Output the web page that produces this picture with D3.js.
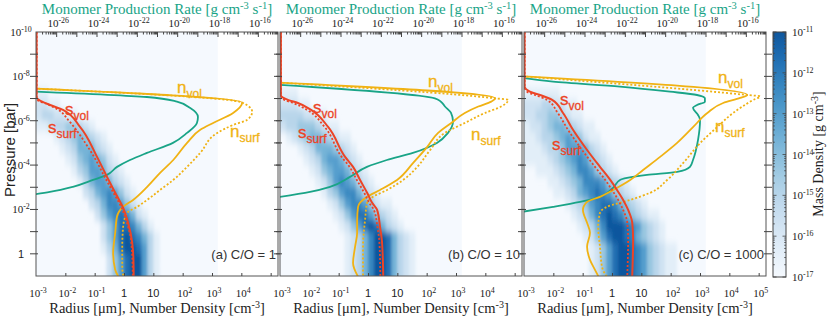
<!DOCTYPE html>
<html>
<head>
<meta charset="utf-8">
<script src="https://cdn.jsdelivr.net/npm/d3@7"></script>
<style>
  body { margin: 0; background: #fff; }
  svg { display: block; }
</style>
</head>
<body>
<div id="chart"></div>
<script>
// Haze profiles for three C/O ratios.
// Every value below is a log10: pressure [bar], radius [um],
// number density [cm^-3], monomer production rate [g cm^-3 s^-1].
// Pairs are [logP, value].

const panelLabels = ["(a) C/O = 1", "(b) C/O = 10", "(c) C/O = 1000"];

const sVol = [
  [[-10,-2.98],[-7.05,-2.98],[-6.9,-2.85],[-6.71,-2.52],[-6.49,-2.08],[-5.72,-1.50],[-4.37,-0.92],[-3.47,-0.58],[-2.75,-0.30],[-2.07,-0.03],[-1.40,0.14],[-0.50,0.28],[0.2,0.32],[1,0.33]],
  [[-10,-2.97],[-7.15,-2.97],[-6.94,-2.73],[-6.80,-2.39],[-6.49,-1.94],[-5.72,-1.36],[-4.37,-0.78],[-3.92,-0.51],[-3.33,-0.27],[-2.75,-0.03],[-2.30,0.14],[-1.98,0.31],[-1.22,0.41],[-0.50,0.48],[1,0.52]],
  [[-10,-2.98],[-7.55,-2.98],[-7.31,-2.80],[-7.16,-2.45],[-6.94,-2.04],[-6.35,-1.67],[-5.59,-1.33],[-4.68,-0.85],[-3.92,-0.41],[-3.33,-0.06],[-2.88,0.17],[-2.43,0.38],[-1.98,0.55],[-1.40,0.69],[-0.63,0.72],[1,0.69]]
];

const sSurf = [
  [[-10,-2.98],[-7.05,-2.98],[-6.9,-2.92],[-6.75,-2.62],[-6.5,-2.25],[-6.0,-1.88],[-5.5,-1.58],[-5.0,-1.32],[-4.37,-1.02],[-3.47,-0.66],[-2.75,-0.36],[-2.07,-0.08],[-1.4,0.1],[-0.5,0.25],[1,0.3]],
  [[-10,-2.97],[-7.15,-2.97],[-6.94,-2.85],[-6.8,-2.55],[-6.49,-2.08],[-5.72,-1.48],[-4.37,-0.9],[-3.92,-0.63],[-3.33,-0.38],[-2.75,-0.13],[-2.3,0.04],[-1.98,0.2],[-1.22,0.32],[-0.5,0.39],[1,0.42]],
  [[-10,-2.98],[-7.55,-2.98],[-7.31,-2.9],[-7.16,-2.62],[-6.94,-2.22],[-6.35,-1.85],[-5.59,-1.5],[-4.68,-1.02],[-3.92,-0.58],[-3.33,-0.23],[-2.88,0.0],[-2.43,0.21],[-1.98,0.38],[-1.4,0.52],[-0.63,0.55],[1,0.52]]
];

const nVol = [
  [[-7.45,-3.05],[-6.82,4.03],[-6.35,3.72],[-5.90,3.04],[-5.59,2.60],[-5.0,2.15],[-4.23,1.68],[-3.65,1.23],[-3.02,0.79],[-2.43,0.31],[-2.12,-0.03],[-1.67,-0.24],[-0.95,-0.30],[-0.05,-0.37],[0.72,-0.30],[1.05,-0.18]],
  [[-7.72,-3.05],[-7.01,4.34],[-6.86,4.20],[-6.64,3.76],[-6.35,3.30],[-5.90,2.84],[-5.45,2.39],[-4.82,2.02],[-4.10,1.54],[-3.33,0.99],[-2.88,0.41],[-2.57,-0.03],[-2.12,-0.34],[-1.53,-0.37],[-0.95,-0.37],[-0.32,-0.44],[0.41,-0.51],[1.05,-0.33]],
  [[-8.0,-3.05],[-7.16,4.61],[-7.03,4.37],[-6.80,3.79],[-6.35,3.25],[-5.72,2.77],[-5.0,2.22],[-4.37,1.64],[-3.78,1.06],[-3.33,0.62],[-2.88,0.04],[-2.57,-0.41],[-2.34,-0.85],[-1.98,-0.99],[-1.40,-0.85],[-0.95,-0.75],[-0.32,-0.85],[0.27,-0.75],[0.72,-0.58],[1.05,-0.45]]
];

const nSurf = [
  [[-7.45,-3.05],[-6.82,4.03],[-6.40,4.37],[-6.04,4.20],[-5.81,3.72],[-5.45,3.18],[-4.55,2.60],[-3.92,2.15],[-3.33,1.68],[-2.88,1.23],[-2.43,0.79],[-2.12,0.45],[-1.85,0.11],[-1.22,-0.03],[-0.32,-0.06],[0.59,-0.06],[1.05,-0.02]],
  [[-7.72,-3.05],[-7.01,4.34],[-6.94,4.78],[-6.64,4.54],[-6.35,3.99],[-5.90,3.30],[-5.45,2.62],[-4.68,2.12],[-3.92,1.68],[-3.33,1.20],[-2.88,0.65],[-2.57,0.17],[-2.30,-0.03],[-1.53,-0.10],[-0.32,-0.17],[1.05,-0.17]],
  [[-8.0,-3.05],[-7.16,4.61],[-7.10,5.05],[-6.94,4.82],[-6.35,4.13],[-5.72,3.59],[-5.0,3.01],[-4.10,2.43],[-3.33,1.88],[-2.75,1.30],[-2.43,0.62],[-2.12,-0.17],[-1.85,-0.41],[-1.22,-0.47],[-0.32,-0.41],[0.59,-0.34],[1.05,-0.17]]
];

const monomerRate = [
  [[-7.32,-27.1],[-7.07,-21.50],[-6.86,-20.01],[-6.58,-19.37],[-6.17,-18.97],[-5.90,-19.02],[-5.45,-19.51],[-5.0,-20.21],[-4.55,-21.50],[-4.23,-22.34],[-3.92,-22.98],[-3.56,-23.48],[-3.33,-24.17],[-3.02,-25.17],[-2.79,-26.31],[-2.68,-27.1]],
  [[-7.62,-27.1],[-7.01,-19.32],[-6.86,-19.02],[-6.64,-18.82],[-6.35,-18.52],[-5.96,-18.42],[-5.45,-18.67],[-5.0,-19.22],[-4.55,-20.41],[-4.23,-21.70],[-3.92,-22.69],[-3.47,-23.53],[-3.02,-24.52],[-2.79,-25.51],[-2.55,-27.1]],
  [[-7.93,-27.1],[-7.76,-25.56],[-7.54,-22.24],[-7.31,-19.76],[-7.16,-18.42],[-7.01,-18.03],[-6.86,-18.03],[-6.71,-18.42],[-6.58,-18.62],[-6.26,-18.37],[-6.04,-18.27],[-5.14,-18.37],[-4.23,-18.62],[-3.92,-18.77],[-3.69,-19.41],[-3.56,-20.90],[-3.42,-21.89],[-3.33,-22.24],[-2.97,-22.59],[-2.52,-23.38],[-2.34,-24.22],[-2.12,-25.56],[-1.88,-27.2]]
];

// Mass density map. One string per pressure bin (0.5 dex, from 1e-10 bar down),
// one digit per radius bin (0.2 dex, from 1e-3 um). Digit d -> log10 rho = -17 + d*2/3.
// Missing trailing digits are 0.
const massDensity = [
  ["","","","","","11","2211","2332211","1123344321","000123454321","0000123555321","00000124565421",
   "000000134665321","0000000135665321","00000000235676421","000000000235776421","0000000000246787521",
   "00000000000246887531","000000000002468987531","000000000001358998631","000000000000246899631","000000000000246899631"],
  ["","","","","","111","22211","33332211","2334443211","012345543211","0001235554321","00001235665321",
   "000001245665321","0000001246765321","00000001346775321","0000000012467764211","00000000012468864321",
   "000000000012468985321","00000000000123579985321","00000000000123579985321","00000000000123579985321","00000000000123579985321"],
  ["","","","","","111111","222332211","2233443211","122345543211","1123345654211","11123346665321","111123456764321",
   "0011123457764321","000011234577764321","0000011235678764321","000000012346788754321","00000000123578987543211",
   "000000000123579998764321","000000000012468998754321","00000000000124689987643211","00000000000124689987643211","00000000000124689987643211"]
];

const pressureTicks = [-10, -8, -6, -4, -2, 0];
const rateTicks = [-26, -24, -22, -20, -18, -16];
const radiusTicks = [[-3, -2, -1, 0, 1, 2, 3, 4], [-3, -2, -1, 0, 1, 2, 3, 4], [-3, -2, -1, 0, 1, 2, 3, 4, 5]];
const rhoTicks = [-11, -12, -13, -14, -15, -16, -17];

// ---- layout ----
const W = 830, H = 319;
const TOP = 32, BOTTOM = 276, PANEL_W = 242;
const panelX = [36, 280, 524];
const CB = { x: 773, w: 13, top: 32, bottom: 277 };

const SANS  = "'Liberation Sans', Arial, Helvetica, sans-serif";
const SERIF = "'Liberation Serif', 'Times New Roman', serif";
const RED = "#ec4426", GOLD = "#f0b214", TEAL = "#19a487", FRAME = "#555", INK = "#222";

// label anchor positions (px offsets from panel left, baseline y)
const tagPos = [
  { sVol: [29, 115], sSurf: [12, 133], nVol: [141, 93], nSurf: [194, 137] },
  { sVol: [33, 113], sSurf: [18, 138], nVol: [148, 87], nSurf: [191, 140] },
  { sVol: [36, 105], sSurf: [28, 150], nVol: [194, 83], nSurf: [191, 132] }
];

const svg = d3.select("#chart").append("svg")
  .attr("width", W).attr("height", H)
  .attr("font-family", SERIF);
const defs = svg.append("defs");

defs.append("filter").attr("id", "smear")
  .attr("x", "-5%").attr("y", "-5%").attr("width", "110%").attr("height", "110%")
  .append("feGaussianBlur").attr("stdDeviation", "1.6 3.5");

const y = d3.scaleLog().domain([1e-10, 10]).range([TOP, BOTTOM]);
const rhoColor = d3.scaleSequential(t => d3.interpolateBlues(0.012 + 0.84 * t)).domain([-17, -11]);

function pow10Label(text, exp, size) {
  if (exp === 0 || exp === 1) {
    text.attr("font-family", SANS).attr("font-size", size).text(exp === 0 ? "1" : "10");
    return;
  }
  text.attr("font-size", size);
  text.append("tspan").text("10");
  text.append("tspan").attr("dy", -4).attr("font-size", size * 0.72).text(exp);
}

function tag(g, x, yb, main, sub, color) {
  const t = g.append("text").attr("x", x).attr("y", yb)
    .attr("fill", color).attr("font-family", SANS)
    .attr("stroke", color).attr("stroke-width", 0.3);
  t.append("tspan").attr("font-size", 17).text(main);
  t.append("tspan").attr("font-size", 12).attr("dy", 5).text(sub);
}

panelX.forEach((L, i) => {
  const R = L + PANEL_W;
  const x = d3.scaleLog().domain([1e-3, 10 ** 5.25]).range([L, R]);
  const xTop = d3.scaleLog().domain([1e-27, 1e-15]).range([L, R]);
  const g = svg.append("g");

  defs.append("clipPath").attr("id", "plot" + i)
    .append("rect").attr("x", L).attr("y", TOP).attr("width", PANEL_W).attr("height", BOTTOM - TOP);
  defs.append("clipPath").attr("id", "heat" + i)
    .append("rect").attr("x", L).attr("y", TOP)
    .attr("width", x(10 ** 3.2) - L).attr("height", BOTTOM - TOP);

  // ---- mass density map ----
  const cells = [];
  massDensity[i].forEach((row, r) => {
    row.padEnd(31, "0").split("").forEach((d, c) => {
      if (+d > 0) cells.push({ r, c, v: -17 + (+d) * 2 / 3 });
    });
  });
  const heat = g.append("g").attr("clip-path", `url(#heat${i})`);
  heat.append("rect")
    .attr("x", L).attr("y", TOP)
    .attr("width", x(10 ** 3.2) - L).attr("height", BOTTOM - TOP)
    .attr("fill", rhoColor(-17));
  heat.append("g").attr("filter", "url(#smear)")
    .selectAll("rect").data(cells).join("rect")
      .attr("x", d => x(10 ** (-3 + 0.2 * d.c)) - (d.c === 0 ? 12 : 0))
      .attr("width", d => x(10 ** (-2.8 + 0.2 * d.c)) - x(10 ** (-3 + 0.2 * d.c)) + (d.c === 0 ? 12 : 0) + 0.5)
      .attr("y", d => y(10 ** (-10 + 0.5 * d.r)))
      .attr("height", d => y(10 ** (-9.5 + 0.5 * d.r)) - y(10 ** (-10 + 0.5 * d.r)) + (d.r === 21 ? 14 : 0) + 0.5)
      .attr("fill", d => rhoColor(d.v));

  // ---- curves ----
  const lines = g.append("g").attr("clip-path", `url(#plot${i})`).attr("fill", "none");
  const bottomLine = d3.line().x(d => x(10 ** d[1])).y(d => y(10 ** d[0])).curve(d3.curveMonotoneY);
  const topLine = d3.line().x(d => xTop(10 ** d[1])).y(d => y(10 ** d[0])).curve(d3.curveMonotoneY);

  lines.append("path").attr("d", topLine(monomerRate[i]))
    .attr("stroke", TEAL).attr("stroke-width", 1.8);
  lines.append("path").attr("d", bottomLine(nSurf[i]))
    .attr("stroke", GOLD).attr("stroke-width", 1.8).attr("stroke-dasharray", "2 2");
  lines.append("path").attr("d", bottomLine(nVol[i]))
    .attr("stroke", GOLD).attr("stroke-width", 1.8);
  lines.append("path").attr("d", bottomLine(sSurf[i]))
    .attr("stroke", RED).attr("stroke-width", 1.8).attr("stroke-dasharray", "2 2");
  lines.append("path").attr("d", bottomLine(sVol[i]))
    .attr("stroke", RED).attr("stroke-width", 2);

  // ---- frame and ticks ----
  g.append("rect").attr("x", L).attr("y", TOP).attr("width", PANEL_W).attr("height", BOTTOM - TOP)
    .attr("fill", "none").attr("stroke", FRAME).attr("stroke-width", 1);

  const decadesP = d3.range(-9, 1);
  const tk = g.append("g").attr("stroke", "#444").attr("stroke-width", 1);
  decadesP.forEach(e => {
    const yy = y(10 ** e);
    tk.append("line").attr("x1", L - 6).attr("x2", L + 2).attr("y1", yy).attr("y2", yy);
    tk.append("line").attr("x1", R - 2).attr("x2", R + 6).attr("y1", yy).attr("y2", yy);
  });

  // top axis: decade ticks + log minor ticks, pointing inward
  const minorRate = [];
  d3.range(-27, -15).forEach(e => d3.range(2, 10).forEach(k => minorRate.push(k * 10 ** e)));
  const topMajor = g.append("g").attr("transform", `translate(0,${TOP})`)
    .call(d3.axisTop(xTop).tickValues(d3.range(-26, -15).map(e => 10 ** e)).tickSize(-5).tickFormat(""));
  const topMinor = g.append("g").attr("transform", `translate(0,${TOP})`)
    .call(d3.axisTop(xTop).tickValues(minorRate).tickSize(-2.5).tickFormat(""));
  [topMajor, topMinor].forEach(a => {
    a.select(".domain").remove();
    a.selectAll("line").attr("stroke", "#444");
  });

  const botAxis = g.append("g").attr("transform", `translate(0,${BOTTOM})`)
    .call(d3.axisBottom(x).tickValues(d3.range(-2, 6).map(e => 10 ** e)).tickSize(-3).tickFormat(""));
  botAxis.select(".domain").remove();
  botAxis.selectAll("line").attr("stroke", "#444");

  // tick labels
  radiusTicks[i].forEach(e => {
    const t = g.append("text").attr("x", x(10 ** e) + (e < 0 ? 2 : (e > 1 ? 2 : 0))).attr("y", 297)
      .attr("text-anchor", "middle").attr("fill", INK);
    pow10Label(t, e, 11);
  });
  rateTicks.forEach(e => {
    const t = g.append("text").attr("x", xTop(10 ** e) + 2).attr("y", 27)
      .attr("text-anchor", "middle").attr("fill", INK);
    pow10Label(t, e, 11);
  });
  if (i === 0) {
    pressureTicks.forEach(e => {
      const t = g.append("text").attr("x", 21).attr("y", y(10 ** e) + 4)
        .attr("text-anchor", "middle").attr("fill", INK);
      pow10Label(t, e, 11);
    });
  }

  // axis titles
  const bt = g.append("text").attr("x", L + PANEL_W / 2).attr("y", 313)
    .attr("text-anchor", "middle").attr("font-size", 14.5).attr("fill", INK);
  bt.append("tspan").text("Radius [\u03bcm], Number Density [cm");
  bt.append("tspan").attr("dy", -5).attr("font-size", 10).text("-3");
  bt.append("tspan").attr("dy", 5).text("]");

  const tt = g.append("text").attr("x", L + PANEL_W / 2).attr("y", 14)
    .attr("text-anchor", "middle").attr("font-size", 15).attr("fill", TEAL);
  tt.append("tspan").text("Monomer Production Rate [g cm");
  tt.append("tspan").attr("dy", -5).attr("font-size", 10.5).text("-3");
  tt.append("tspan").attr("dy", 5).text(" s");
  tt.append("tspan").attr("dy", -5).attr("font-size", 10.5).text("-1");
  tt.append("tspan").attr("dy", 5).text("]");

  // panel tag and curve names
  g.append("text").attr("x", R - 2).attr("y", 259).attr("text-anchor", "end")
    .attr("font-family", SANS).attr("font-size", 13).attr("fill", "#333")
    .text(panelLabels[i]);

  const p = tagPos[i];
  tag(g, L + p.sVol[0], p.sVol[1], "s", "vol", RED);
  tag(g, L + p.sSurf[0], p.sSurf[1], "s", "surf", RED);
  tag(g, L + p.nVol[0], p.nVol[1], "n", "vol", GOLD);
  tag(g, L + p.nSurf[0], p.nSurf[1], "n", "surf", GOLD);
});

// Pressure label
svg.append("text")
  .attr("transform", "translate(15,150) rotate(-90)")
  .attr("text-anchor", "middle").attr("font-family", SANS)
  .attr("font-size", 15).attr("fill", INK)
  .text("Pressure [bar]");

// ---- colour bar ----
const cbY = d3.scaleLog().domain([1e-17, 1e-11]).range([CB.bottom, CB.top]);
const grad = defs.append("linearGradient").attr("id", "cbgrad")
  .attr("x1", 0).attr("y1", 1).attr("x2", 0).attr("y2", 0);
d3.range(0, 1.0001, 0.1).forEach(t => {
  grad.append("stop").attr("offset", t).attr("stop-color", rhoColor(-17 + 6 * t));
});
const cb = svg.append("g");
cb.append("rect").attr("x", CB.x).attr("y", CB.top).attr("width", CB.w).attr("height", CB.bottom - CB.top)
  .attr("fill", "url(#cbgrad)").attr("stroke", "#444").attr("stroke-width", 1);

const cbMinor = [];
d3.range(-17, -11).forEach(e => d3.range(2, 10).forEach(k => cbMinor.push(k * 10 ** e)));
const cbt = cb.append("g").attr("stroke", "#444").attr("stroke-width", 0.8);
rhoTicks.forEach(e => {
  const yy = cbY(10 ** e);
  cbt.append("line").attr("x1", CB.x).attr("x2", CB.x + 3.5).attr("y1", yy).attr("y2", yy);
  cbt.append("line").attr("x1", CB.x + CB.w - 3.5).attr("x2", CB.x + CB.w).attr("y1", yy).attr("y2", yy);
});
cbMinor.forEach(v => {
  const yy = cbY(v);
  cbt.append("line").attr("x1", CB.x).attr("x2", CB.x + 1.8).attr("y1", yy).attr("y2", yy);
  cbt.append("line").attr("x1", CB.x + CB.w - 1.8).attr("x2", CB.x + CB.w).attr("y1", yy).attr("y2", yy);
});
rhoTicks.forEach(e => {
  const t = cb.append("text").attr("x", CB.x + CB.w + 6).attr("y", cbY(10 ** e) + 4)
    .attr("fill", INK);
  pow10Label(t, e, 11);
});
const cbTitle = svg.append("text")
  .attr("transform", `translate(823,154) rotate(-90)`)
  .attr("text-anchor", "middle").attr("font-size", 14).attr("fill", INK);
cbTitle.append("tspan").text("Mass Density [g cm");
cbTitle.append("tspan").attr("dy", -5).attr("font-size", 10).text("-3");
cbTitle.append("tspan").attr("dy", 5).text("]");
</script>
</body>
</html>
